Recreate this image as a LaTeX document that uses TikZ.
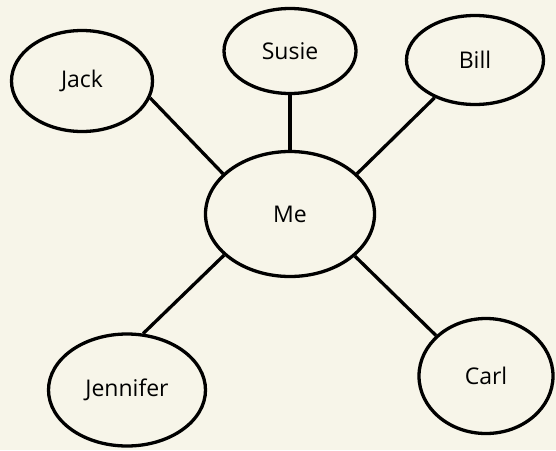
\documentclass[tikz,border=0pt]{standalone}
\usepackage{fontspec}
\setmainfont{Open Sans}
\usetikzlibrary{shapes.geometric}
\definecolor{paper}{RGB}{247,245,233}

\begin{document}
\begin{tikzpicture}[x=1pt,y=-1pt,
    friend/.style={ellipse,draw=black,line width=3.3pt,inner sep=0pt,font=\fontsize{23}{26}\selectfont},
    link/.style={line width=3.3pt}]
        % background
        \fill[paper] (0,0) rectangle (556,450);
        \useasboundingbox (0,0) rectangle (556,450);
        % centre and friends
        \node[friend,minimum width=169pt,minimum height=125pt] at (290,214) (me) {Me};
        \node[friend,minimum width=141pt,minimum height=101pt] at (82,81) (jack) {Jack};
        \node[friend,minimum width=132pt,minimum height=85pt] at (290,51) (susie) {Susie};
        \node[friend,minimum width=137pt,minimum height=89pt] at (475,60) (bill) {Bill};
        \node[friend,minimum width=157pt,minimum height=112pt] at (127,390) (jennifer) {Jennifer};
        \node[friend,minimum width=134pt,minimum height=115pt] at (486,376) (carl) {Carl};
        % draw links
        \draw[link] (me.149) -- (jack.-14);
        \draw[link] (me.north) -- (susie.south);
        \draw[link] (me.31) -- (bill.-137);
        \draw[link] (me.212) -- (jennifer.74);
        \draw[link] (me.-33) -- (carl.141);
    \end{tikzpicture}
\end{document}
